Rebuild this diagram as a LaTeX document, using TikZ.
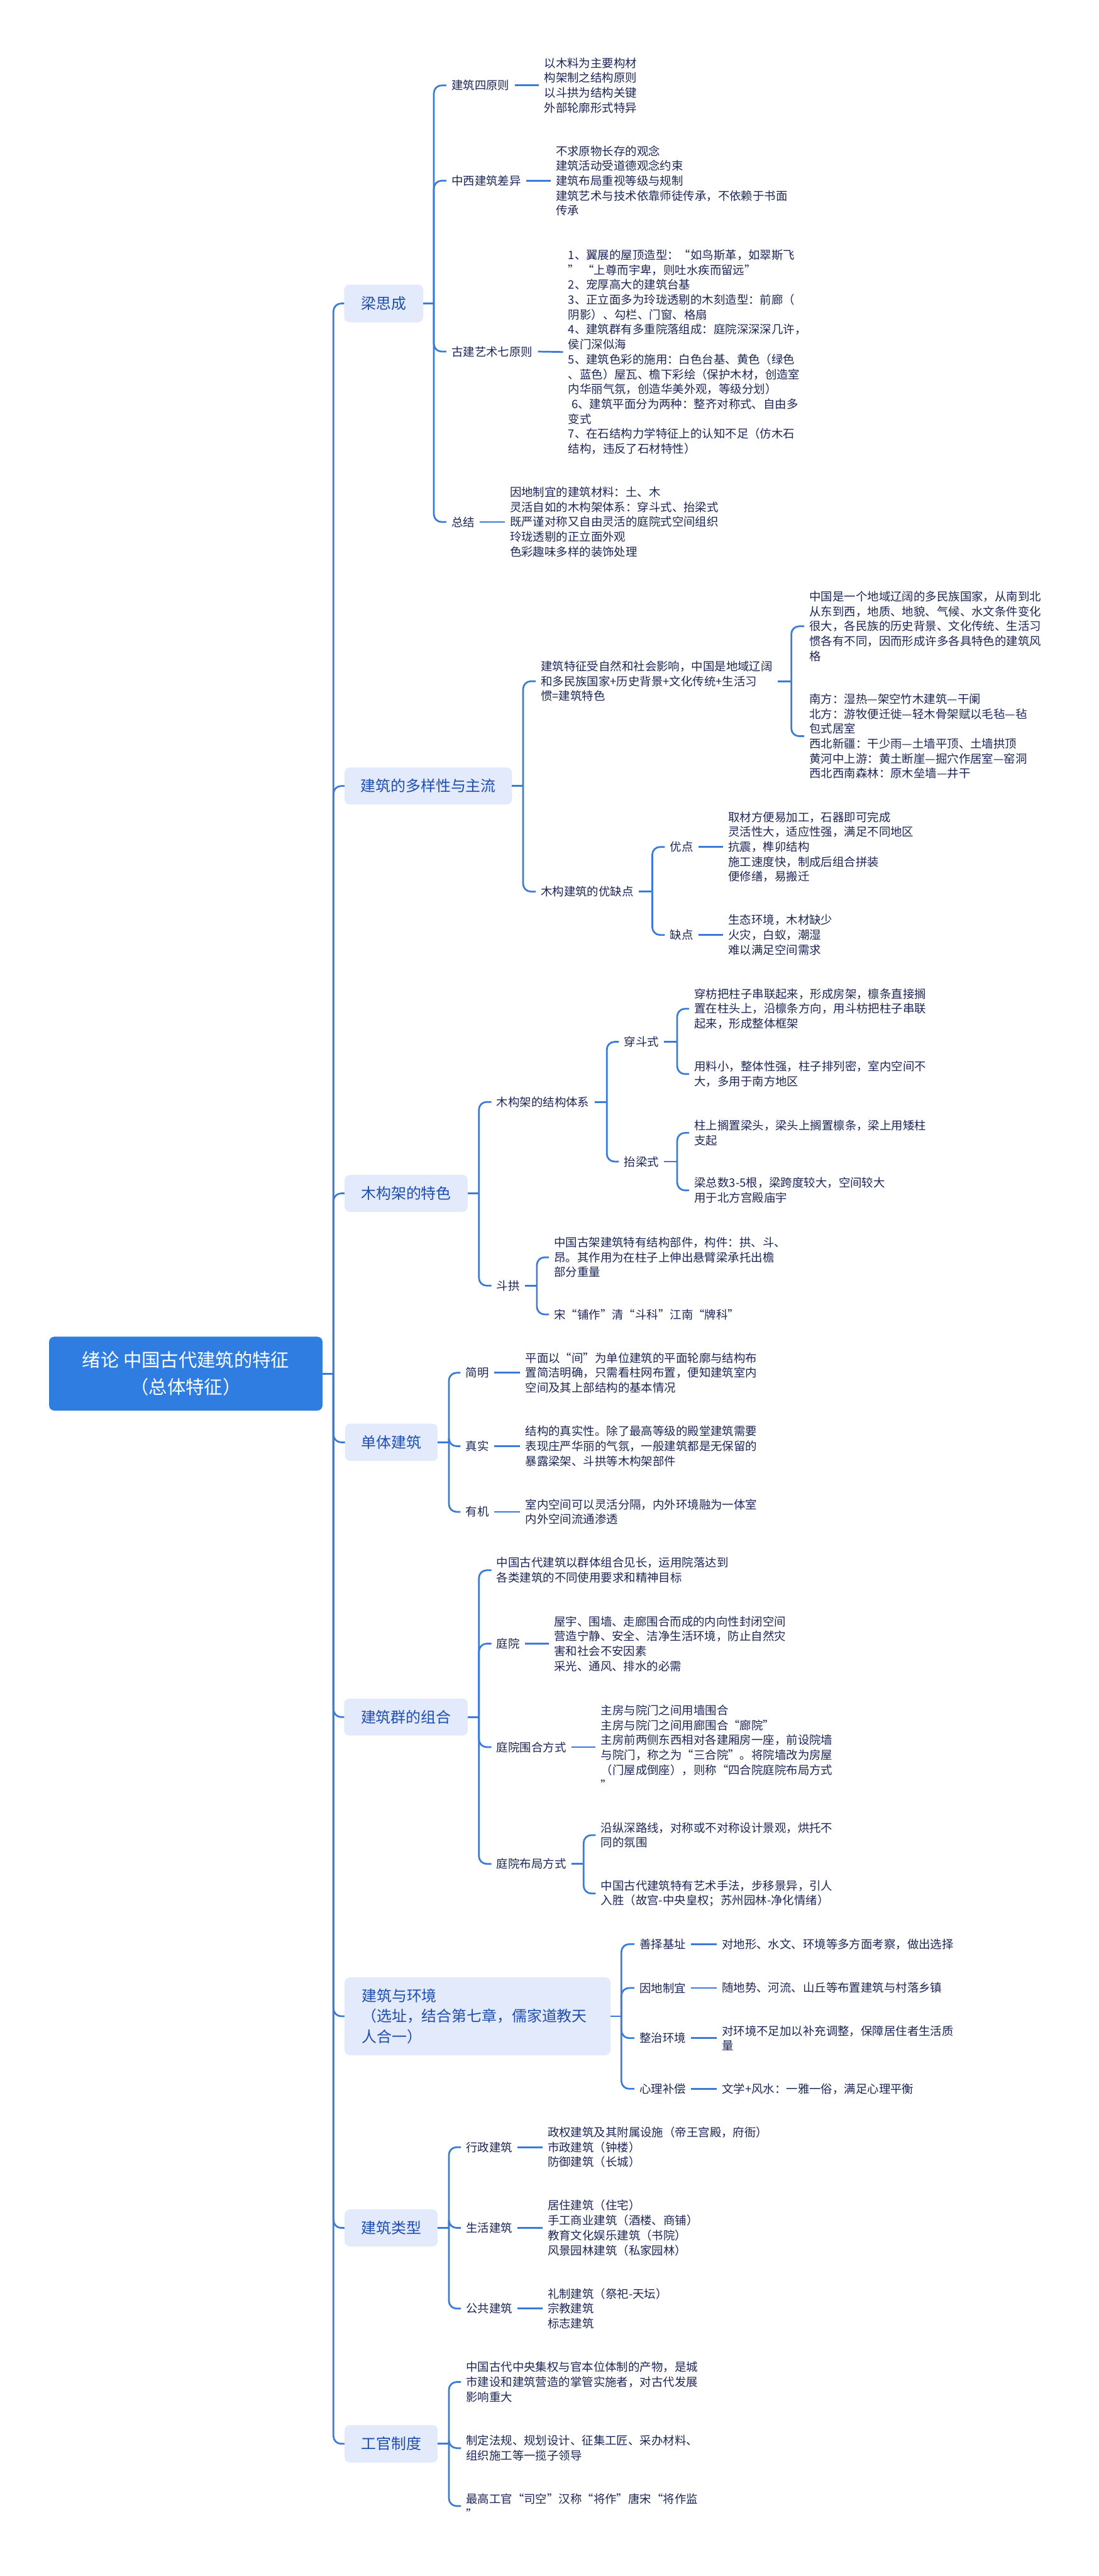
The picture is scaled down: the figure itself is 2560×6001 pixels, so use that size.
\documentclass[tikz,border=0pt]{standalone}
\usepackage{fontspec}
\setmainfont{Noto Sans CJK SC}
\definecolor{lineblue}{HTML}{3A7AD8}
\definecolor{lonefill}{HTML}{E3EAFB}
\definecolor{lonetext}{HTML}{1E4FAF}
\definecolor{rootfill}{HTML}{2F7DE1}
\definecolor{navy}{HTML}{1D2756}
\newcommand\leaffont{\fontsize{27}{34.7}\selectfont}
\newcommand\lonefont{\fontsize{35}{47}\selectfont}
\newcommand\rootfont{\fontsize{43}{63}\selectfont}
\tikzset{
  conn/.style={draw=lineblue, line width=4pt, rounded corners=18pt},
  leaf/.style={anchor=west, align=left, inner xsep=12pt, inner ysep=2pt, text=navy, font=\leaffont},
  lone/.style={rounded corners=12pt, fill=lonefill, text=lonetext, font=\lonefont, align=center, inner sep=0pt},
  rootbox/.style={rounded corners=12pt, fill=rootfill, text=white, font=\rootfont, align=center, inner sep=0pt}
}
\begin{document}
\begin{tikzpicture}[x=1pt,y=-1pt]
\useasboundingbox (0,0) rectangle (2560,6001);
\fill[white] (0,0) rectangle (2560,6001);

% root and level 1
\node[rootbox, minimum width=637pt, minimum height=172pt] (root) at (433,3200) {绪论 中国古代建筑的特征\\（总体特征）};
\node[lone, minimum width=184pt, minimum height=88pt] (A) at (894,707) {梁思成};
\node[lone, minimum width=390pt, minimum height=86pt] (B) at (998,1831) {建筑的多样性与主流};
\node[lone, minimum width=287pt, minimum height=86pt] (C) at (946.5,2780) {木构架的特色};
\node[lone, minimum width=216pt, minimum height=87pt] (D) at (912,3360) {单体建筑};
\node[lone, minimum width=288pt, minimum height=86pt] (E) at (946,4000) {建筑群的组合};
\node[lone, minimum width=620pt, minimum height=181pt, text width=540pt, align=left] (F) at (1113,4697) {建筑与环境\\（选址，结合第七章，儒家道教天\\人合一）};
\node[lone, minimum width=217pt, minimum height=86pt] (G) at (911.5,5190) {建筑类型};
\node[lone, minimum width=217pt, minimum height=87pt] (H) at (911.5,5693) {工官制度};

\coordinate (t0) at (777,3200);
\draw[conn] (root.east) -- (t0);
\foreach \n in {A,B,C,D,E,F,G,H} { \draw[conn] (t0) |- (\n.west); }

% ---------- A 梁思成
\coordinate (bA) at (1011,707);
\node[leaf] (A1) at (1040,199) {建筑四原则};
\node[leaf] (A1l) at (1256,199) {以木料为主要构材\\构架制之结构原则\\以斗拱为结构关键\\外部轮廓形式特异};
\node[leaf] (A2) at (1040,421) {中西建筑差异};
\node[leaf] (A2l) at (1283,421) {不求原物长存的观念\\建筑活动受道德观念约束\\建筑布局重视等级与规制\\建筑艺术与技术依靠师徒传承，不依赖于书面\\传承};
\node[leaf] (A3) at (1040,819) {古建艺术七原则};
\node[leaf] (A3l) at (1312,820) {1、翼展的屋顶造型：“如鸟斯革，如翠斯飞\\” “上尊而宇卑，则吐水疾而留远”\\2、宠厚高大的建筑台基\\3、正立面多为玲珑透剔的木刻造型：前廊（\\阴影）、勾栏、门窗、格扇\\4、建筑群有多重院落组成：庭院深深深几许，\\侯门深似海\\5、建筑色彩的施用：白色台基、黄色（绿色\\、蓝色）屋瓦、檐下彩绘（保护木材，创造室\\内华丽气氛，创造华美外观，等级分划）\\\hspace*{8pt}6、建筑平面分为两种：整齐对称式、自由多\\变式\\7、在石结构力学特征上的认知不足（仿木石\\结构，违反了石材特性）};
\node[leaf] (A4) at (1040,1216) {总结};
\node[leaf] (A4l) at (1176,1216) {因地制宜的建筑材料：土、木\\灵活自如的木构架体系：穿斗式、抬梁式\\既严谨对称又自由灵活的庭院式空间组织\\玲珑透剔的正立面外观\\色彩趣味多样的装饰处理};
\draw[conn] (A.east) -- (bA);
\foreach \n in {A1,A2,A3,A4} { \draw[conn] (bA) |- (\n.west); }
\draw[conn] (A1.east) -- (A1l.west);
\draw[conn] (A2.east) -- (A2l.west);
\draw[conn] (A3.east) -- (A3l.west);
\draw[conn] (A4.east) -- (A4l.west);

% ---------- B 建筑的多样性与主流
\coordinate (bB) at (1219,1831);
\node[leaf] (B1) at (1248,1587) {建筑特征受自然和社会影响，中国是地域辽阔\\和多民族国家+历史背景+文化传统+生活习\\惯=建筑特色};
\coordinate (bB1) at (1844,1587);
\node[leaf] (B1a) at (1874,1459) {中国是一个地域辽阔的多民族国家，从南到北\\从东到西，地质、地貌、气候、水文条件变化\\很大，各民族的历史背景、文化传统、生活习\\惯各有不同，因而形成许多各具特色的建筑风\\格};
\node[leaf] (B1b) at (1874,1715) {南方：湿热—架空竹木建筑—干阑\\北方：游牧便迁徙—轻木骨架赋以毛毡—毡\\包式居室\\西北新疆：干少雨—土墙平顶、土墙拱顶\\黄河中上游：黄土断崖—掘穴作居室—窑洞\\西北西南森林：原木垒墙—井干};
\node[leaf] (B2) at (1248,2077) {木构建筑的优缺点};
\coordinate (bB2) at (1520,2077);
\node[leaf] (B2a) at (1549,1973) {优点};
\node[leaf] (B2al) at (1685,1973) {取材方便易加工，石器即可完成\\灵活性大，适应性强，满足不同地区\\抗震，榫卯结构\\施工速度快，制成后组合拼装\\便修缮，易搬迁};
\node[leaf] (B2b) at (1549,2178) {缺点};
\node[leaf] (B2bl) at (1685,2178) {生态环境，木材缺少\\火灾，白蚁，潮湿\\难以满足空间需求};
\draw[conn] (B.east) -- (bB);
\foreach \n in {B1,B2} { \draw[conn] (bB) |- (\n.west); }
\draw[conn] (B1.east) -- (bB1);
\foreach \n in {B1a,B1b} { \draw[conn] (bB1) |- (\n.west); }
\draw[conn] (B2.east) -- (bB2);
\foreach \n in {B2a,B2b} { \draw[conn] (bB2) |- (\n.west); }
\draw[conn] (B2a.east) -- (B2al.west);
\draw[conn] (B2b.east) -- (B2bl.west);

% ---------- C 木构架的特色
\coordinate (bC) at (1116,2780);
\node[leaf] (C1) at (1145,2567) {木构架的结构体系};
\coordinate (bC1) at (1414,2567);
\node[leaf] (C1a) at (1442,2427) {穿斗式};
\coordinate (bC1a) at (1578,2427);
\node[leaf] (C1a1) at (1606,2350) {穿枋把柱子串联起来，形成房架，檩条直接搁\\置在柱头上，沿檩条方向，用斗枋把柱子串联\\起来，形成整体框架};
\node[leaf] (C1a2) at (1606,2502) {用料小，整体性强，柱子排列密，室内空间不\\大，多用于南方地区};
\node[leaf] (C1b) at (1442,2706) {抬梁式};
\coordinate (bC1b) at (1578,2706);
\node[leaf] (C1b1) at (1606,2639) {柱上搁置梁头，梁头上搁置檩条，梁上用矮柱\\支起};
\node[leaf] (C1b2) at (1606,2773) {梁总数3-5根，梁跨度较大，空间较大\\用于北方宫殿庙宇};
\node[leaf] (C2) at (1145,2995) {斗拱};
\coordinate (bC2) at (1251,2995);
\node[leaf] (C2a) at (1279,2929) {中国古架建筑特有结构部件，构件：拱、斗、\\昂。其作用为在柱子上伸出悬臂梁承托出檐\\部分重量};
\node[leaf] (C2b) at (1279,3062) {宋“铺作”清“斗科”江南“牌科”};
\draw[conn] (C.east) -- (bC);
\foreach \n in {C1,C2} { \draw[conn] (bC) |- (\n.west); }
\draw[conn] (C1.east) -- (bC1);
\foreach \n in {C1a,C1b} { \draw[conn] (bC1) |- (\n.west); }
\draw[conn] (C1a.east) -- (bC1a);
\foreach \n in {C1a1,C1a2} { \draw[conn] (bC1a) |- (\n.west); }
\draw[conn] (C1b.east) -- (bC1b);
\foreach \n in {C1b1,C1b2} { \draw[conn] (bC1b) |- (\n.west); }
\draw[conn] (C2.east) -- (bC2);
\foreach \n in {C2a,C2b} { \draw[conn] (bC2) |- (\n.west); }

% ---------- D 单体建筑
\coordinate (bD) at (1046,3360);
\node[leaf] (D1) at (1073,3198) {简明};
\node[leaf] (D1l) at (1212,3198) {平面以“间”为单位建筑的平面轮廓与结构布\\置简洁明确，只需看柱网布置，便知建筑室内\\空间及其上部结构的基本情况};
\node[leaf] (D2) at (1073,3369) {真实};
\node[leaf] (D2l) at (1212,3369) {结构的真实性。除了最高等级的殿堂建筑需要\\表现庄严华丽的气氛，一般建筑都是无保留的\\暴露梁架、斗拱等木构架部件};
\node[leaf] (D3) at (1073,3522) {有机};
\node[leaf] (D3l) at (1212,3522) {室内空间可以灵活分隔，内外环境融为一体室\\内外空间流通渗透};
\draw[conn] (D.east) -- (bD);
\foreach \n in {D1,D2,D3} { \draw[conn] (bD) |- (\n.west); }
\draw[conn] (D1.east) -- (D1l.west);
\draw[conn] (D2.east) -- (D2l.west);
\draw[conn] (D3.east) -- (D3l.west);

% ---------- E 建筑群的组合
\coordinate (bE) at (1116,4000);
\node[leaf] (E1) at (1145,3658) {中国古代建筑以群体组合见长，运用院落达到\\各类建筑的不同使用要求和精神目标};
\node[leaf] (E2) at (1145,3829) {庭院};
\node[leaf] (E2l) at (1279,3829) {屋宇、围墙、走廊围合而成的内向性封闭空间\\营造宁静、安全、洁净生活环境，防止自然灾\\害和社会不安因素\\采光、通风、排水的必需};
\node[leaf] (E3) at (1145,4070) {庭院围合方式};
\node[leaf] (E3l) at (1388,4070) {主房与院门之间用墙围合\\主房与院门之间用廊围合“廊院”\\主房前两侧东西相对各建厢房一座，前设院墙\\与院门，称之为“三合院”。将院墙改为房屋\\（门屋成倒座），则称“四合院庭院布局方式\\”};
\node[leaf] (E4) at (1145,4342) {庭院布局方式};
\coordinate (bE4) at (1360,4342);
\node[leaf] (E4a) at (1388,4275) {沿纵深路线，对称或不对称设计景观，烘托不\\同的氛围};
\node[leaf] (E4b) at (1388,4411) {中国古代建筑特有艺术手法，步移景异，引人\\入胜（故宫-中央皇权；苏州园林-净化情绪）};
\draw[conn] (E.east) -- (bE);
\foreach \n in {E1,E2,E3,E4} { \draw[conn] (bE) |- (\n.west); }
\draw[conn] (E2.east) -- (E2l.west);
\draw[conn] (E3.east) -- (E3l.west);
\draw[conn] (E4.east) -- (bE4);
\foreach \n in {E4a,E4b} { \draw[conn] (bE4) |- (\n.west); }

% ---------- F 建筑与环境
\coordinate (bF) at (1448,4697);
\node[leaf] (F1) at (1478,4529) {善择基址};
\node[leaf] (F1l) at (1670,4529) {对地形、水文、环境等多方面考察，做出选择};
\node[leaf] (F2) at (1478,4631) {因地制宜};
\node[leaf] (F2l) at (1670,4631) {随地势、河流、山丘等布置建筑与村落乡镇};
\node[leaf] (F3) at (1478,4748) {整治环境};
\node[leaf] (F3l) at (1670,4748) {对环境不足加以补充调整，保障居住者生活质\\量};
\node[leaf] (F4) at (1478,4866) {心理补偿};
\node[leaf] (F4l) at (1670,4866) {文学+风水：一雅一俗，满足心理平衡};
\draw[conn] (F.east) -- (bF);
\foreach \n in {F1,F2,F3,F4} { \draw[conn] (bF) |- (\n.west); }
\draw[conn] (F1.east) -- (F1l.west);
\draw[conn] (F2.east) -- (F2l.west);
\draw[conn] (F3.east) -- (F3l.west);
\draw[conn] (F4.east) -- (F4l.west);

% ---------- G 建筑类型
\coordinate (bG) at (1046,5190);
\node[leaf] (G1) at (1074,5002) {行政建筑};
\node[leaf] (G1l) at (1264,5002) {政权建筑及其附属设施（帝王宫殿，府衙）\\市政建筑（钟楼）\\防御建筑（长城）};
\node[leaf] (G2) at (1074,5190) {生活建筑};
\node[leaf] (G2l) at (1264,5190) {居住建筑（住宅）\\手工商业建筑（酒楼、商铺）\\教育文化娱乐建筑（书院）\\风景园林建筑（私家园林）};
\node[leaf] (G3) at (1074,5378) {公共建筑};
\node[leaf] (G3l) at (1264,5378) {礼制建筑（祭祀-天坛）\\宗教建筑\\标志建筑};
\draw[conn] (G.east) -- (bG);
\foreach \n in {G1,G2,G3} { \draw[conn] (bG) |- (\n.west); }
\draw[conn] (G1.east) -- (G1l.west);
\draw[conn] (G2.east) -- (G2l.west);
\draw[conn] (G3.east) -- (G3l.west);

% ---------- H 工官制度
\coordinate (bH) at (1046,5693);
\node[leaf] (H1) at (1074,5549) {中国古代中央集权与官本位体制的产物，是城\\市建设和建筑营造的掌管实施者，对古代发展\\影响重大};
\node[leaf] (H2) at (1074,5703) {制定法规、规划设计、征集工匠、采办材料、\\组织施工等一揽子领导};
\node[leaf] (H3) at (1074,5838) {最高工官“司空”汉称“将作”唐宋“将作监\\”};
\draw[conn] (H.east) -- (bH);
\foreach \n in {H1,H2,H3} { \draw[conn] (bH) |- (\n.west); }
\end{tikzpicture}
\end{document}
